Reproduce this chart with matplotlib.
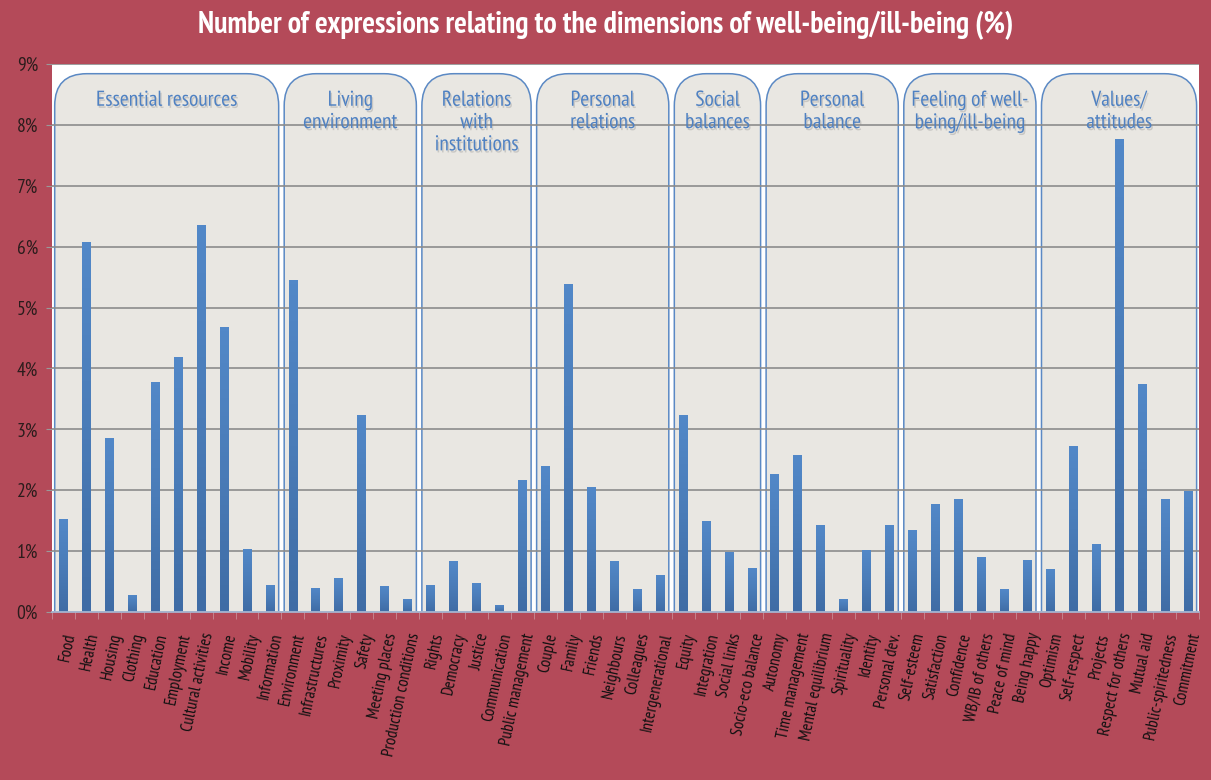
import matplotlib

matplotlib.use("Agg")
import matplotlib.pyplot as plt
import matplotlib.patheffects as pe
import numpy as np
from matplotlib.colors import LinearSegmentedColormap
from matplotlib.patches import FancyBboxPatch
from matplotlib.ticker import FixedLocator, FuncFormatter

plt.rcParams["font.family"] = ["PT Sans Narrow", "Liberation Sans", "DejaVu Sans"]

# dimension groups and the number of items in each
groups = [
    "Essential resources",
    "Living\nenvironment",
    "Relations\nwith\ninstitutions",
    "Personal\nrelations",
    "Social\nbalances",
    "Personal\nbalance",
    "Feeling of well-\nbeing/ill-being",
    "Values/\nattitudes",
]
group_sizes = [10, 6, 5, 6, 4, 6, 6, 7]

items = [
    "Food", "Health", "Housing", "Clothing", "Education", "Employment",
    "Cultural activities", "Income", "Mobility", "Information",
    "Environment", "Infrastructures", "Proximity", "Safety", "Meeting places",
    "Production conditions",
    "Rights", "Democracy", "Justice", "Communication", "Public management",
    "Couple", "Family", "Friends", "Neighbours", "Colleagues", "Intergenerational",
    "Equity", "Integration", "Social links", "Socio-eco balance",
    "Autonomy", "Time management", "Mental equilibrium", "Spirituality",
    "Identity", "Personal dev.",
    "Self-esteem", "Satisfaction", "Confidence", "WB/IB of others",
    "Peace of mind", "Being happy",
    "Optimism", "Self-respect", "Projects", "Respect for others", "Mutual aid",
    "Public-spiritedness", "Commitment",
]

# share of expressions (%)
shares = [
    1.52, 6.07, 2.85, 0.28, 3.78, 4.19, 6.36, 4.68, 1.04, 0.45,
    5.46, 0.40, 0.55, 3.23, 0.43, 0.22,
    0.45, 0.83, 0.47, 0.12, 2.16,
    2.39, 5.39, 2.05, 0.84, 0.38, 0.60,
    3.24, 1.50, 0.99, 0.73,
    2.26, 2.57, 1.43, 0.22, 1.01, 1.43,
    1.34, 1.78, 1.86, 0.90, 0.37, 0.86,
    0.70, 2.72, 1.12, 7.77, 3.75, 1.86, 1.98,
]

BG = "#b44a59"
BOX_FILL = "#e9e7e2"
BOX_EDGE = "#5b89c4"
LABEL_BLUE = "#4f81c2"
bar_cmap = LinearSegmentedColormap.from_list("bar", ["#3f6ca5", "#4a7cb8", "#5288c8"])

fig = plt.figure(figsize=(12.11, 7.80), dpi=100, facecolor=BG)
ax = fig.add_axes([0.0429, 0.2154, 0.9475, 0.7026])
ax.set_facecolor("white")

x = np.arange(len(items))
ax.set_xlim(-0.5, len(items) - 0.5)
ax.set_ylim(0, 9)

# rounded panels behind each group of bars
px_x = ax.bbox.width / len(items)
px_y = ax.bbox.height / 9
radius_px = 32
edges = np.concatenate([[0], np.cumsum(group_sizes)]) - 0.5
inset = 0.12
box_top = 8.84
for name, lo, hi in zip(groups, edges[:-1], edges[1:]):
    box = FancyBboxPatch(
        (lo + inset, -1), hi - lo - 2 * inset, box_top + 1,
        boxstyle=f"round,pad=0,rounding_size={radius_px / px_x}",
        mutation_aspect=(px_x / px_y),
        facecolor=BOX_FILL, edgecolor=BOX_EDGE, lw=1.1, zorder=0.2,
    )
    ax.add_patch(box)
    ax.text(
        (lo + hi) / 2, 8.56, name, ha="center", va="top", fontsize=15.5,
        color=LABEL_BLUE, linespacing=1.22, zorder=3,
        path_effects=[pe.withSimplePatchShadow(offset=(1, -1.5),
                                               shadow_rgbFace="0.55", alpha=0.35)],
    )

# bars, each filled with a soft vertical gradient
bars = ax.bar(x, shares, width=0.38, color="#4a7db9", zorder=2)
grad = np.linspace(0, 1, 64).reshape(-1, 1)
for b in bars:
    x0, y0 = b.get_x(), b.get_y()
    im = ax.imshow(grad, cmap=bar_cmap, origin="lower", aspect="auto",
                   extent=(x0, x0 + b.get_width(), y0, y0 + b.get_height()), zorder=2.1)
    im.set_clip_path(b)
ax.set_xlim(-0.5, len(items) - 0.5)
ax.set_ylim(0, 9)

# grid and axes
ax.set_axisbelow(True)
ax.yaxis.grid(True, color="#8c8c8c", lw=1.2)
ax.set_yticks(np.arange(0, 10))
ax.yaxis.set_major_formatter(FuncFormatter(lambda v, _: f"{v:.0f}%"))
ax.tick_params(axis="y", length=4, color="#9a9a9a", labelsize=14,
               labelcolor="#2a1c1c", pad=6)

ax.set_xticks(x)
ax.set_xticklabels(items, rotation=78, ha="right", rotation_mode="anchor",
                   fontsize=12, color="#111111")
ax.tick_params(axis="x", which="major", length=0, pad=14)
ax.xaxis.set_minor_locator(FixedLocator(np.arange(-0.5, len(items), 1.0)))
ax.tick_params(axis="x", which="minor", length=5, color="#c98c95")

for side in ("top", "right", "left"):
    ax.spines[side].set_visible(False)
ax.spines["bottom"].set_color("#a9bcd8")
ax.spines["bottom"].set_linewidth(1.2)

fig.text(0.5, 0.967, "Number of expressions relating to the dimensions of well-being/ill-being (%)",
         ha="center", va="center", fontsize=21.5, fontweight="bold", color="white")

fig.savefig("out.png", dpi=100, facecolor=BG)
